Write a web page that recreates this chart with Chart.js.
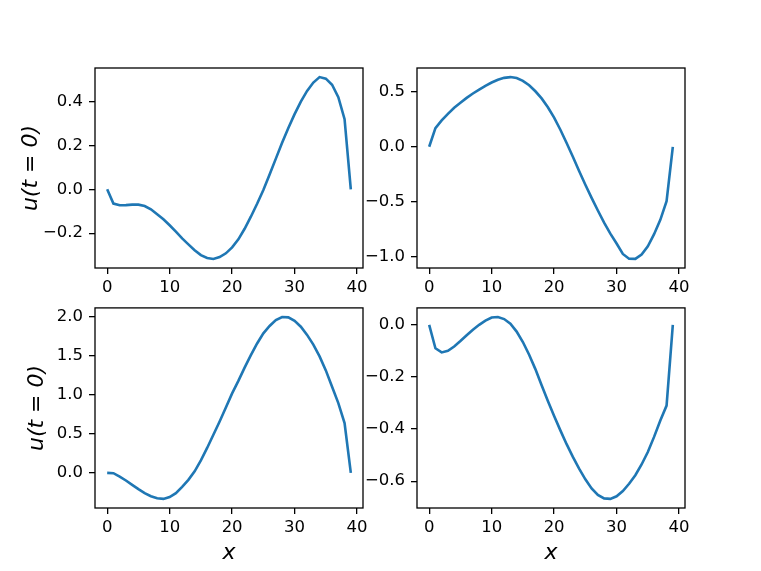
<!DOCTYPE html>
<html>
<head>
<meta charset="utf-8">
<script src="https://cdn.jsdelivr.net/npm/chart.js@4.4.0/dist/chart.umd.min.js"></script>
<style>
  body { margin: 0; background: #fff; }
  #fig { position: relative; width: 761px; height: 571px; overflow: hidden; background: #fff; }
  #fig canvas { position: absolute; }
</style>
</head>
<body>
<div id="fig">
  <canvas id="c1" width="380" height="292" style="left:0px;top:0px"></canvas>
  <canvas id="c2" width="406" height="292" style="left:355px;top:0px"></canvas>
  <canvas id="c3" width="380" height="279" style="left:0px;top:292px"></canvas>
  <canvas id="c4" width="406" height="279" style="left:355px;top:292px"></canvas>
</div>
<script>
'use strict'

// grid points
var xValues = [0, 1, 2, 3, 4, 5, 6, 7, 8, 9, 10, 11, 12, 13, 14, 15, 16, 17, 18, 19,
               20, 21, 22, 23, 24, 25, 26, 27, 28, 29, 30, 31, 32, 33, 34, 35, 36, 37, 38, 39];
var xTicks = [0, 10, 20, 30, 40];

// u(t=0) for the four samples
var uTopLeft = [0.0, -0.065, -0.073, -0.072, -0.07, -0.07, -0.076, -0.091, -0.114, -0.137,
                -0.164, -0.193, -0.224, -0.251, -0.278, -0.30, -0.313, -0.3175, -0.309, -0.292,
                -0.265, -0.228, -0.18, -0.125, -0.066, -0.003, 0.068, 0.14, 0.212, 0.28,
                0.343, 0.4, 0.449, 0.487, 0.512, 0.505, 0.477, 0.42, 0.32, 0.0];
var uTopRight = [0.0, 0.17, 0.24, 0.30, 0.355, 0.40, 0.445, 0.485, 0.52, 0.555,
                 0.585, 0.61, 0.627, 0.634, 0.625, 0.60, 0.56, 0.505, 0.44, 0.36,
                 0.265, 0.155, 0.035, -0.09, -0.22, -0.345, -0.465, -0.58, -0.69, -0.79,
                 -0.88, -0.975, -1.018, -1.02, -0.98, -0.905, -0.795, -0.665, -0.495, 0.0];
var uBottomLeft = [0.0, -0.004, -0.047, -0.098, -0.154, -0.209, -0.26, -0.30, -0.325, -0.334,
                   -0.31, -0.26, -0.18, -0.09, 0.02, 0.16, 0.32, 0.49, 0.66, 0.84,
                   1.02, 1.18, 1.35, 1.51, 1.66, 1.79, 1.885, 1.96, 2.0, 1.995,
                   1.95, 1.875, 1.77, 1.645, 1.495, 1.315, 1.105, 0.895, 0.64, 0.0];
var uBottomRight = [0.0, -0.09, -0.106, -0.10, -0.083, -0.062, -0.04, -0.019, 0.0, 0.016,
                    0.028, 0.03, 0.022, 0.004, -0.026, -0.066, -0.115, -0.17, -0.232, -0.292,
                    -0.35, -0.405, -0.458, -0.507, -0.552, -0.593, -0.628, -0.653, -0.666, -0.668,
                    -0.658, -0.638, -0.61, -0.577, -0.536, -0.488, -0.43, -0.367, -0.31, 0.0];

var yTicksTopLeft = [-0.2, 0.0, 0.2, 0.4];
var yTicksTopRight = [-1.0, -0.5, 0.0, 0.5];
var yTicksBottomLeft = [0.0, 0.5, 1.0, 1.5, 2.0];
var yTicksBottomRight = [-0.6, -0.4, -0.2, 0.0];

var yLabel = 'u(t = 0)';
var xLabel = 'x';

// black box round each axes
var frame = {
    id: 'frame',
    afterDatasetsDraw: function (chart) {
        var a = chart.chartArea, ctx = chart.ctx;
        ctx.save();
        ctx.strokeStyle = '#000';
        ctx.lineWidth = 1.3;
        ctx.strokeRect(a.left, a.top, a.right - a.left, a.bottom - a.top);
        ctx.restore();
    }
};

function fmt(v) {
    return v.toFixed(1).replace('-', '\u2212');
}

function padded(arr) {
    var lo = Math.min.apply(null, arr), hi = Math.max.apply(null, arr);
    var m = (hi - lo) * 0.05;
    return [lo - m, hi + m];
}

// pos: canvas page offset, box: axes box on the page
function makePanel(id, values, yTicks, pos, box, showX, yTitlePad) {
    var canvas = document.getElementById(id);
    var cw = canvas.width, ch = canvas.height;
    var xr = padded(xValues), yr = padded(values);
    var tickFont = { family: 'DejaVu Sans', size: 16.5 };
    var labelFont = { family: 'DejaVu Sans', size: 22, style: 'italic' };

    new Chart(canvas, {
        type: 'line',
        data: {
            datasets: [{
                data: xValues.map(function (x, i) { return { x: x, y: values[i] }; }),
                borderColor: '#1f77b4',
                borderWidth: 2.6,
                pointRadius: 0,
                tension: 0,
                fill: false
            }]
        },
        options: {
            responsive: false,
            animation: false,
            devicePixelRatio: 1,
            layout: { padding: { left: 0, top: box.top - pos.y, right: pos.x + cw - box.right, bottom: 0 } },
            plugins: { legend: { display: false }, tooltip: { enabled: false } },
            scales: {
                x: {
                    type: 'linear',
                    min: xr[0],
                    max: xr[1],
                    afterBuildTicks: function (s) { s.ticks = xTicks.map(function (v) { return { value: v }; }); },
                    afterFit: function (s) { s.height = pos.y + ch - box.bottom; },
                    border: { display: false },
                    grid: { drawOnChartArea: false, drawTicks: true, tickLength: 6, color: '#000', lineWidth: 1.3 },
                    ticks: { font: tickFont, color: '#000', padding: 4, maxRotation: 0, callback: function (v) { return String(v); } },
                    title: { display: showX, text: xLabel, font: labelFont, color: '#000', padding: { top: 0, bottom: 5 } }
                },
                y: {
                    type: 'linear',
                    min: yr[0],
                    max: yr[1],
                    afterBuildTicks: function (s) { s.ticks = yTicks.map(function (v) { return { value: v }; }); },
                    afterFit: function (s) { s.width = box.left - pos.x; },
                    border: { display: false },
                    grid: { drawOnChartArea: false, drawTicks: true, tickLength: 6, color: '#000', lineWidth: 1.3 },
                    ticks: { font: tickFont, color: '#000', padding: 6, callback: function (v) { return fmt(v); } },
                    title: { display: yTitlePad !== null, text: yLabel, font: labelFont, color: '#000', padding: { top: yTitlePad || 0, bottom: 0 } }
                }
            }
        },
        plugins: [frame]
    });
}

makePanel('c1', uTopLeft, yTicksTopLeft, { x: 0, y: 0 }, { left: 95, top: 68, right: 363, bottom: 268 }, false, 18);
makePanel('c2', uTopRight, yTicksTopRight, { x: 355, y: 0 }, { left: 417, top: 68, right: 685, bottom: 268 }, false, null);
makePanel('c3', uBottomLeft, yTicksBottomLeft, { x: 0, y: 292 }, { left: 95, top: 307, right: 363, bottom: 508 }, true, 24);
makePanel('c4', uBottomRight, yTicksBottomRight, { x: 355, y: 292 }, { left: 417, top: 307, right: 685, bottom: 508 }, true, null);
</script>
</body>
</html>
